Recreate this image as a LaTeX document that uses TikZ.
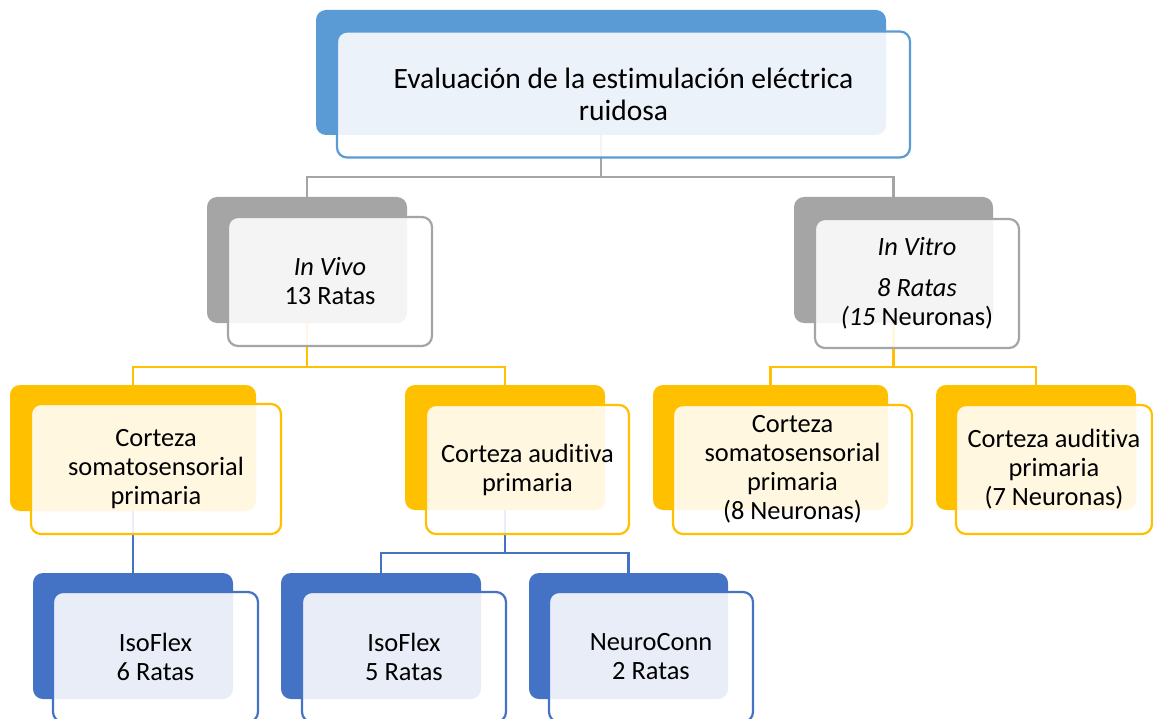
\documentclass[tikz,border=0pt]{standalone}
\usepackage{fontspec}
\setmainfont[Ligatures=NoCommon, RawFeature={-liga;-clig;-dlig}]{Carlito}
\usetikzlibrary{positioning}
\pgfdeclarelayer{bg}
\pgfsetlayers{bg,main}

\definecolor{topblue}{HTML}{5B9BD5}
\definecolor{midgray}{HTML}{A5A5A5}
\definecolor{gold}{HTML}{FFC000}
\definecolor{deepblue}{HTML}{4472C4}

\tikzset{
  backbox/.style={rectangle, fill=#1, draw=none, rounded corners=10pt, inner sep=0pt},
  frontbox/.style={rectangle, draw=#1, line width=2.2pt, fill=white, fill opacity=0.88,
    text opacity=1, rounded corners=10pt, align=center, inner sep=0pt,
    font=\fontsize{26.4}{29}\selectfont},
  link/.style={draw=#1, line width=2.2pt},
}

\begin{document}
\begin{tikzpicture}[x=1pt,y=-1pt]
\useasboundingbox (0,0) rectangle (1153,719);

% root
\node (evalB) [backbox=topblue, minimum width=570pt, minimum height=125pt] at (601,72.5) {};
\node (eval) [frontbox=topblue, minimum width=573pt, minimum height=126pt,
  font=\fontsize{29.5}{32}\selectfont] at (623.5,94.5)
  {Evaluación de la estimulación eléctrica\\ruidosa};

% second level
\node (vivoB) [backbox=midgray, minimum width=200pt, minimum height=126pt] at (307,260) {};
\node (vivo) [frontbox=midgray, minimum width=204pt, minimum height=129pt] at (330,281.5)
  {\itshape In Vivo\\13 Ratas};

\node (vitroB) [backbox=midgray, minimum width=199pt, minimum height=126pt] at (893.5,260) {};
\node (vitro) [frontbox=midgray, minimum width=204pt, minimum height=129pt] at (917,283.5)
  {{\itshape In Vitro}\\[12pt]{\itshape 8 Ratas}\\{\itshape (15} Neuronas)};

% third level
\node (somaLB) [backbox=gold, minimum width=246pt, minimum height=126pt] at (133,448) {};
\node (somaL) [frontbox=gold, minimum width=250pt, minimum height=130pt] at (156,469)
  {Corteza\\somatosensorial\\primaria};

\node (audLB) [backbox=gold, minimum width=200pt, minimum height=125pt] at (505,447.5) {};
\node (audL) [frontbox=gold, minimum width=203pt, minimum height=129pt] at (527.5,469.5)
  {Corteza auditiva\\primaria};

\node (somaRB) [backbox=gold, minimum width=235pt, minimum height=125pt] at (770.5,447.5) {};
\node (somaR) [frontbox=gold, minimum width=239pt, minimum height=129pt] at (792.5,469.5)
  {Corteza\\somatosensorial\\primaria\\(8 Neuronas)};

\node (audRB) [backbox=gold, minimum width=200pt, minimum height=125pt] at (1036,447.5) {};
\node (audR) [frontbox=gold, minimum width=196pt, minimum height=129pt] at (1054,469.5)
  {Corteza auditiva\\primaria\\(7 Neuronas)};

% fourth level
\node (iso6B) [backbox=deepblue, minimum width=200pt, minimum height=126pt] at (133,636) {};
\node (iso6) [frontbox=deepblue, minimum width=205pt, minimum height=130pt] at (155.5,657)
  {IsoFlex\\6 Ratas};

\node (iso5B) [backbox=deepblue, minimum width=200pt, minimum height=126pt] at (381,636) {};
\node (iso5) [frontbox=deepblue, minimum width=204pt, minimum height=130pt] at (404,657)
  {IsoFlex\\5 Ratas};

\node (neuroB) [backbox=deepblue, minimum width=199pt, minimum height=126pt] at (628.5,636) {};
\node (neuro) [frontbox=deepblue, minimum width=204pt, minimum height=130pt] at (651,657)
  {NeuroConn\\2 Ratas};

% connectors, kept beneath the boxes
\begin{pgfonlayer}{bg}
  \draw[link=midgray] (evalB.south) -- (evalB.south |- 0,177) -| (vivoB.north);
  \draw[link=midgray] (evalB.south |- 0,177) -| (vitroB.north);

  \draw[link=gold] (vivoB.south) -- (vivoB.south |- 0,367) -| (somaLB.north);
  \draw[link=gold] (vivoB.south |- 0,367) -| (audLB.north);
  \draw[link=gold] (vitroB.south) -- (vitroB.south |- 0,367) -| (somaRB.north);
  \draw[link=gold] (vitroB.south |- 0,367) -| (audRB.north);

  \draw[link=deepblue] (somaLB.south) -- (iso6B.north);
  \draw[link=deepblue] (audLB.south) -- (audLB.south |- 0,553) -| (iso5B.north);
  \draw[link=deepblue] (audLB.south |- 0,553) -| (neuroB.north);
\end{pgfonlayer}
\end{tikzpicture}
\end{document}
